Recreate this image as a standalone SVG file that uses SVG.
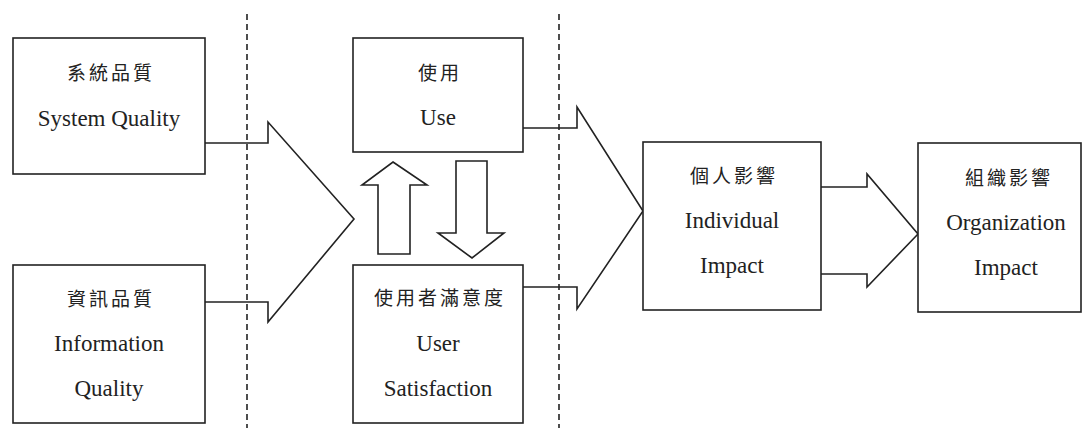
<svg xmlns="http://www.w3.org/2000/svg" width="1083" height="428" viewBox="0 0 1083 428">
<style>
.box{fill:#fff;stroke:#222;stroke-width:1.6}
.conn{fill:none;stroke:#222;stroke-width:1.6;stroke-linejoin:miter}
.blk{fill:#fff;stroke:#222;stroke-width:1.6}
.dash{stroke:#222;stroke-width:1.6;stroke-dasharray:6,4}
.en{font-size:23px;fill:#222;text-anchor:middle}
.zh{font-size:19px;fill:#222;text-anchor:middle;letter-spacing:3px}
</style>
<rect width="1083" height="428" fill="#fff"/>
<g id="separators">
<line class="dash" x1="247" y1="14" x2="247" y2="428"/>
<line class="dash" x1="559" y1="14" x2="559" y2="428"/>
</g>
<g id="connectors">
<path class="conn" d="M205,143 H268 V122 L354,219 L268,322 V302 H205"/>
<path class="conn" d="M523,128 H577 V107 L643,211 L577,309 V287 H523"/>
<path class="conn" d="M821,187 H867 V174 L918,234 L867,287 V274 H821"/>
<polygon class="blk" points="393,162 427,185 410,185 410,254 378,254 378,185 362,185"/>
<polygon class="blk" points="456,161 487,161 487,233 504,233 472,258 438,233 456,233"/>
</g>
<g id="labels-en" font-family="'Liberation Serif', 'Times New Roman', serif">
<g id="system-quality">
<rect class="box" x="13" y="38" width="192" height="136"/>
<text class="zh" font-family="'Noto Sans CJK TC', 'Noto Sans CJK SC', sans-serif" x="111" y="80">系統品質</text>
<text class="en" x="109" y="126">System Quality</text>
</g>
<g id="information-quality">
<rect class="box" x="13" y="265" width="192" height="158"/>
<text class="zh" font-family="'Noto Sans CJK TC', 'Noto Sans CJK SC', sans-serif" x="111" y="306">資訊品質</text>
<text class="en" x="109" y="351">Information</text>
<text class="en" x="109" y="396">Quality</text>
</g>
<g id="use">
<rect class="box" x="353" y="38" width="170" height="114"/>
<text class="zh" font-family="'Noto Sans CJK TC', 'Noto Sans CJK SC', sans-serif" x="440" y="80">使用</text>
<text class="en" x="438" y="125">Use</text>
</g>
<g id="user-satisfaction">
<rect class="box" x="353" y="265" width="170" height="158"/>
<text class="zh" font-family="'Noto Sans CJK TC', 'Noto Sans CJK SC', sans-serif" x="440" y="305">使用者滿意度</text>
<text class="en" x="438" y="351">User</text>
<text class="en" x="438" y="396">Satisfaction</text>
</g>
<g id="individual-impact">
<rect class="box" x="643" y="142" width="178" height="168"/>
<text class="zh" font-family="'Noto Sans CJK TC', 'Noto Sans CJK SC', sans-serif" x="734" y="183">個人影響</text>
<text class="en" x="732" y="228">Individual</text>
<text class="en" x="732" y="273">Impact</text>
</g>
<g id="organization-impact">
<rect class="box" x="918" y="143" width="163" height="169"/>
<text class="zh" font-family="'Noto Sans CJK TC', 'Noto Sans CJK SC', sans-serif" x="1009" y="185">組織影響</text>
<text class="en" x="1006" y="230">Organization</text>
<text class="en" x="1006" y="275">Impact</text>
</g>
</g>
</svg>
